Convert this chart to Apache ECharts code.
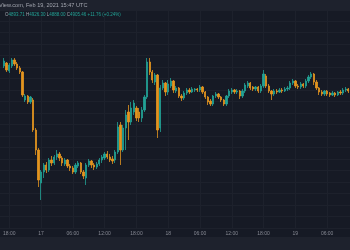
<!DOCTYPE html>
<html><head><meta charset="utf-8">
<script src="https://cdn.jsdelivr.net/npm/echarts@6/dist/echarts.min.js"></script>
<style>html,body{margin:0;padding:0;background:#161a25}#c{width:350px;height:250px}</style>
</head><body><div id="c"></div>
<script>
// 30-minute candles, Feb 16 17:00 -> Feb 19 10:00 (local)
const openVals = [4934,4937,4929,4934,4940,4936,4932,4928,4900,4904,
4898,4900,4870,4850,4817,4828,4835,4830,4840,4837,
4843,4846,4842,4836,4840,4834,4832,4828,4834,4837,
4828,4822,4835,4839,4835,4833,4836,4840,4842,4846,
4843,4841,4840,4848,4875,4850,4872,4888,4878,4888,
4892,4888,4882,4890,4903,4938,4928,4918,4925,4872,
4912,4917,4908,4914,4919,4909,4912,4904,4902,4907,
4910,4908,4910,4911,4910,4913,4908,4903,4899,4896,
4904,4906,4903,4900,4896,4904,4908,4910,4908,4909,
4904,4909,4914,4917,4913,4911,4913,4909,4914,4924,
4914,4909,4906,4909,4908,4910,4909,4911,4912,4917,
4919,4914,4913,4916,4914,4919,4923,4926,4918,4912,
4908,4906,4909,4907,4905,4907,4905,4908,4907,4910,
4911];
const closeVals = [4939,4930,4935,4940,4936,4932,4928,4905,4904,4898,
4903,4870,4850,4820,4828,4835,4830,4840,4837,4843,
4846,4842,4837,4840,4834,4832,4828,4835,4837,4828,
4824,4835,4839,4835,4833,4836,4840,4843,4846,4843,
4840,4839,4848,4873,4850,4872,4885,4878,4892,4897,
4882,4882,4890,4903,4938,4928,4920,4925,4870,4912,
4917,4908,4916,4919,4910,4912,4904,4902,4907,4910,
4908,4911,4911,4910,4913,4908,4903,4898,4896,4904,
4906,4903,4900,4896,4904,4909,4910,4908,4909,4904,
4909,4915,4917,4912,4911,4913,4909,4914,4926,4914,
4909,4906,4909,4908,4910,4909,4911,4912,4917,4919,
4914,4913,4916,4914,4919,4923,4926,4918,4912,4908,
4906,4909,4906,4905,4907,4905,4908,4907,4910,4911,
4909];
const lowVals = [4932,4928,4927,4932,4934,4930,4926,4903,4898,4896,
4896,4868,4845,4813,4800,4822,4827,4828,4834,4835,
4840,4839,4834,4834,4832,4829,4826,4826,4832,4826,
4821,4815,4833,4832,4830,4831,4834,4837,4840,4841,
4838,4836,4837,4846,4835,4848,4850,4860,4875,4885,
4879,4878,4878,4888,4901,4925,4917,4915,4862,4868,
4910,4904,4905,4912,4907,4907,4902,4899,4900,4905,
4906,4907,4908,4908,4908,4906,4901,4895,4894,4894,
4902,4901,4898,4894,4894,4902,4906,4906,4906,4901,
4902,4907,4912,4910,4909,4909,4907,4907,4912,4912,
4907,4900,4904,4906,4907,4907,4908,4909,4910,4915,
4912,4911,4911,4912,4912,4917,4921,4915,4910,4905,
4904,4904,4904,4903,4904,4903,4904,4905,4905,4908,
4907];
const highVals = [4942,4938,4937,4942,4942,4938,4934,4929,4906,4905,
4904,4902,4872,4852,4830,4837,4838,4842,4844,4845,
4850,4848,4844,4842,4841,4836,4834,4837,4839,4838,
4830,4837,4841,4840,4837,4838,4842,4845,4848,4849,
4846,4844,4850,4878,4878,4875,4890,4895,4898,4900,
4894,4892,4893,4905,4942,4942,4930,4927,4926,4915,
4920,4918,4920,4922,4920,4914,4913,4906,4909,4912,
4912,4913,4912,4912,4915,4914,4909,4904,4901,4905,
4908,4907,4904,4901,4905,4911,4912,4911,4911,4910,
4911,4917,4919,4918,4914,4914,4914,4916,4930,4926,
4916,4910,4911,4911,4912,4912,4913,4914,4919,4921,
4920,4916,4918,4917,4921,4925,4928,4927,4920,4913,
4910,4910,4910,4908,4909,4908,4909,4910,4912,4913,
4912];
const tickLabels = ['18:00','17','06:00','12:00','18:00','18','06:00','12:00','18:00','19','06:00'];
const firstTickIndex = 2, tickStep = 12;

const categories = [];
for (let i = 0; i < openVals.length; i++) {
  const t = new Date(Date.UTC(2021, 1, 16, 17, 0) + i * 1800000);
  categories.push(t.toISOString().slice(5, 16).replace('T', ' '));
}
const candles = openVals.map((o, i) => [o, closeVals[i], lowVals[i], highVals[i]]);
const isTick = (idx) => idx >= firstTickIndex && (idx - firstTickIndex) % tickStep === 0;

const chart = echarts.init(document.getElementById('c'), null, {renderer: 'canvas'});
const gridCol = '#1d212c';
chart.setOption({
  backgroundColor: '#161a25',
  animation: false,
  grid: [
    {left: 1.667, right: 1.667, top: 10, bottom: 22},
    {left: 0, right: 0, top: 10, bottom: 22}
  ],
  xAxis: [
    {type: 'category', gridIndex: 0, data: categories, boundaryGap: false,
     axisLine: {show: false}, axisTick: {show: false},
     splitLine: {show: true, interval: (idx) => isTick(idx), lineStyle: {color: gridCol, width: 1}},
     axisLabel: {interval: (idx) => isTick(idx), margin: 3, fontSize: 5, color: '#868993',
       fontFamily: 'Liberation Sans', formatter: (v, idx) => tickLabels[(idx - firstTickIndex) / tickStep]}},
    {type: 'value', gridIndex: 1, show: false, min: 0, max: 1}
  ],
  yAxis: [
    {type: 'value', gridIndex: 0, min: 4772, max: 4990, show: false, splitLine: {show: false}},
    {type: 'value', gridIndex: 1, min: 0, max: 218, interval: 11.5, show: true,
     axisLine: {show: false}, axisTick: {show: false}, axisLabel: {show: false},
     splitLine: {show: true, lineStyle: {color: gridCol, width: 1}}}
  ],
  series: [
    {type: 'candlestick', xAxisIndex: 0, yAxisIndex: 0, data: candles, barWidth: 1.8,
     itemStyle: {color: '#22a295', color0: '#e3941f', borderColor: '#22a295', borderColor0: '#e3941f', borderWidth: 0.8}}
  ],
  graphic: [
    {type: 'rect', left: 0, top: 0, shape: {width: 350, height: 10}, style: {fill: '#1e222d'}, z: 10},
    {type: 'rect', left: 0, top: 237, shape: {width: 350, height: 13}, style: {fill: '#1e222d'}, z: 10},
    {type: 'text', left: -1, top: 2.5, z: 11, style: {text: 'View.com, Feb 19, 2021 15:47 UTC', fill: '#a3a6af', font: '5.6px "Liberation Sans"'}},
    {type: 'text', left: 5, top: 12, z: 11, style: {
      text: '{l|O}{g|4893.71} {l|H}{g|4926.30} {l|L}{g|4888.00} {l|C}{g|4905.46} {g|+11.76 (+0.24%)}',
      font: '4.5px "Liberation Sans"',
      rich: {l: {fill: '#a3a6af', font: '4.5px "Liberation Sans"'}, g: {fill: '#22a295', font: '4.5px "Liberation Sans"'}}}}
  ]
});
</script></body></html>
